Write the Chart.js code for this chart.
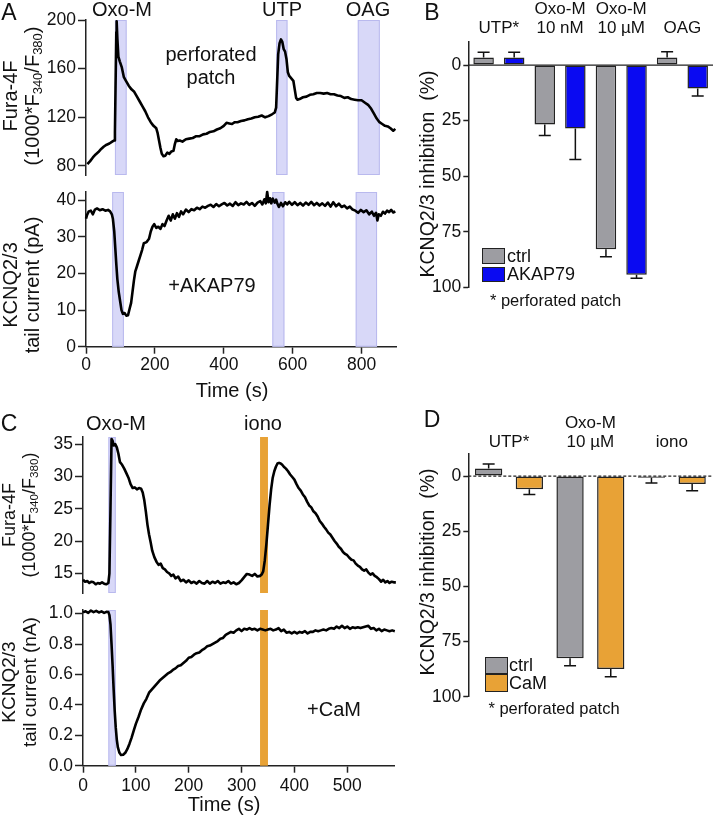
<!DOCTYPE html>
<html><head><meta charset="utf-8">
<script src="https://cdn.jsdelivr.net/npm/chart.js@4.4.1/dist/chart.umd.min.js"></script>
<style>
html,body{margin:0;padding:0;background:#fff;}
#wrap{position:relative;width:714px;height:815px;overflow:hidden;font-family:"Liberation Sans",Arial,sans-serif;color:#111;}
canvas{position:absolute;left:0;top:0;}
.t{position:absolute;white-space:nowrap;transform:translate(-50%,-50%);line-height:1.15;text-align:center;}
.l{position:absolute;white-space:nowrap;transform:translate(0,-50%);line-height:1.15;}
.r{position:absolute;white-space:nowrap;transform:translate(-50%,-50%) rotate(-90deg);text-align:center;line-height:1.1;}
.sw{position:absolute;box-sizing:border-box;border:1.5px solid #222;}
sub{font-size:65%;vertical-align:-0.2em;line-height:0;}
</style></head><body><div id="wrap"></div>
<script>
// ---------- DATA ----------
// Panel A top: Fura-4F ratio vs time (s)
const aFuraT=[4,12,20,28,36,44,52,60,68,76,82,84,86,88,89,91,94,98,104,110,116,124,132,140,148,156,164,172,180,188,196,204,208,212,216,220,225,230,236,242,248,254,258,262,266,272,280,290,300,310,320,330,340,350,360,370,380,390,400,408,416,424,432,440,450,460,470,480,490,500,510,520,530,540,548,552,555,558,562,566,570,574,578,582,586,590,596,602,606,610,614,620,630,640,650,660,670,680,690,700,710,720,730,740,750,760,770,780,790,800,810,820,828,836,844,852,860,868,876,884,892,898];
const aFuraV=[81.5,84,87,89.5,91.5,94,96,97.5,98.5,100,101,108,150,190,199,185,170,166,161,153,150,146,143,141,137,133,129,125,120,116,113,111,107,101,95,90,88,88.5,91,90,92,92.5,98,102,100.5,101,100,102,102.5,103,104.5,104.5,106,106.5,108,108.5,110,111,113,115.5,115,114.5,116,116,117,117.5,118.5,119,120,120.5,121.5,120,121,122.5,124,128,150,172,181,184,182,176,174,168,157,154,152,150,143,136,134.5,135,136.5,137,138.5,139,140,140,139.5,140,139,139,138,137.5,136,136.5,135,134.5,134,134,132,130,127,123,119,116,114.5,113,112.5,111,109,110.5];
const aFuraShades=[[84,118],[552,585],[789,853]];
const aFuraTicks=[80,120,160,200];

// Panel A bottom: KCNQ2/3 tail current (pA)
const aTailT=[0,3,8,14,20,26,32,40,48,56,64,70,75,78,82,85,88,91,95,99,103,107,112,117,122,127,131,135,139,143,148,153,158,163,168,176,183,188,193,198,204,210,216,222,228,234,240,246,252,258,264,270,276,282,290,298,306,314,322,330,338,346,354,362,370,378,386,394,402,410,418,426,434,442,450,458,466,474,482,490,498,506,512,518,522,526,530,534,538,542,548,552,556,560,566,572,578,584,590,598,606,614,622,630,638,646,654,662,670,678,686,694,702,710,718,726,734,742,750,758,766,774,782,790,798,806,814,822,830,836,842,846,850,856,862,868,874,880,886,892,898];
const aTailV=[35,36,37,37.2,36.2,37.5,37.8,37.3,37.6,37.2,37.4,37,36.2,35,31.5,27,22.5,18.5,15,12.5,10,9,9.2,8.5,8.6,10.5,12,15,18,20.5,22,23.5,25,26.5,28.3,28.6,29.5,31.5,32.8,33.5,32.5,32.8,32.2,33.5,33,34.5,35.8,34.5,36.2,35,36.5,35.5,37,36.2,37.5,36.8,37.6,37.3,38,37.6,38.3,38,38.5,38.8,38.2,39,38.4,38.9,39.3,38.6,39.1,38.5,39.5,38.7,39.2,38.9,39.6,38.8,39.3,38.5,39.4,39.8,38.9,40.3,39.2,42.3,39.5,40.6,39.2,40.5,39.4,40.2,39,38.2,39.3,38.4,39.5,38.9,39.6,38.8,39.5,38.7,39.3,38.6,39.4,38.8,39.6,38.7,39.3,38.6,39.2,38.5,39.4,38.3,39.5,38.4,39.1,38.2,38.6,37.8,38.3,37.5,37.2,36.6,37.4,36.8,37.3,36.2,36.9,35.8,36.6,34.5,36.2,35.8,36.9,36.4,37.2,36.8,37.4,36.7,37];
const aTailShades=[[76,110],[541,576],[783,845]];
const aTailTicks=[0,10,20,30,40];
const aTimeTicks=[0,200,400,600,800];

// Panel B: KCNQ2/3 inhibition (%)
const bCategories=[["UTP*"],["Oxo-M","10 nM"],["Oxo-M","10 \u00B5M"],["OAG"]];
const bCtrl=[-3.4,26.7,82.9,-3.4];
const bCtrlErr=[2.3,5,3.3,2.6];
const bAkap=[-3.4,28.5,94.3,10.5];
const bAkapErr=[2.3,14,1.6,3.4];
const inhTicks=[0,25,50,75,100];

// Panel C top: Fura-4F ratio
const cFuraT=[0,4,8,12,16,20,24,28,32,36,40,44,48,50,52,54,56,58,61,64,67,70,74,78,82,86,90,94,98,102,106,110,113,116,119,122,125,128,131,135,139,143,147,151,155,159,163,167,171,175,180,185,190,195,200,205,210,215,220,225,230,235,240,245,250,255,260,265,270,275,280,285,290,295,300,305,310,315,320,325,330,335,338,341,344,347,350,353,356,359,362,365,368,371,374,377,380,384,388,392,396,400,404,408,412,416,420,424,428,432,436,440,444,448,452,456,460,464,468,472,476,480,484,488,492,496,500,504,508,512,516,520,524,528,532,536,540,544,548,552,556,560,564,568,572,576,580,584,588,592];
const cFuraV=[14,13.7,13.8,13.5,13.7,13.6,13.3,13.5,13.4,13.6,13.4,13.3,13.5,15,25,35.8,35.5,34.8,35,34.5,33.5,32.2,31.8,31.2,30.5,29.8,28.8,28.2,28.3,28,28.2,28.1,27.5,26.3,24.5,22.5,21,19.8,18.5,17.5,16.8,16.3,16.5,15.8,15.6,15.2,15,14.6,14.8,14.2,14.5,13.8,14,13.6,13.9,13.5,13.7,13.4,13.8,13.5,13.4,13.8,13.4,13.7,13.5,13.8,13.4,13.6,13.5,13.8,13.4,13.6,13.3,13.5,13.9,14.4,14.9,14.8,14.6,14.9,14.5,14.6,14.8,15.3,17,19.5,22.5,25.5,28,29.8,30.8,31.5,32,32.1,32,31.8,31.5,31.2,30.8,30.3,29.9,29.5,28.8,28.2,27.8,27.2,26.8,26.1,25.5,25.2,24.6,24.3,23.8,23.1,22.7,22.2,21.8,21.3,21,20.5,20,19.6,19.1,18.8,18.3,18,17.8,17.4,17.1,17,16.5,16.2,16,15.6,15.4,15.6,15.1,14.8,15,14.6,14.4,14.1,13.7,14,13.6,13.8,13.5,13.7,13.6,13.6];
const cShades=[[48,62],[335,350]];
const cFuraTicks=[15,20,25,30,35];

// Panel C bottom: KCNQ2/3 tail current (nA)
const cTailT=[0,5,10,15,20,25,30,35,40,45,48,50,52,54,56,58,60,62,64,66,69,72,76,80,84,88,92,96,100,105,110,115,120,125,130,135,140,145,150,155,160,165,170,175,180,185,190,195,200,205,210,215,220,225,230,235,240,245,250,255,260,265,270,275,280,285,290,295,300,305,310,315,320,325,330,335,340,345,350,355,360,365,370,375,380,385,390,395,400,405,410,415,420,425,430,435,440,445,450,455,460,465,470,475,480,485,490,495,500,505,510,515,520,525,530,535,540,545,550,555,560,565,570,575,580,585,590];
const cTailV=[1.01,1.015,1.005,1.02,1.01,1.018,1.008,1.015,1.005,1.012,1.01,0.99,0.93,0.8,0.66,0.5,0.36,0.25,0.17,0.12,0.085,0.07,0.072,0.085,0.11,0.145,0.185,0.23,0.275,0.32,0.37,0.41,0.44,0.48,0.5,0.52,0.54,0.56,0.575,0.59,0.605,0.615,0.63,0.64,0.655,0.66,0.675,0.69,0.71,0.715,0.73,0.74,0.745,0.76,0.77,0.785,0.79,0.8,0.81,0.82,0.835,0.84,0.86,0.87,0.88,0.875,0.89,0.9,0.885,0.9,0.895,0.905,0.895,0.9,0.89,0.9,0.895,0.89,0.895,0.9,0.89,0.895,0.905,0.885,0.895,0.875,0.88,0.87,0.88,0.87,0.88,0.875,0.885,0.87,0.88,0.88,0.89,0.885,0.89,0.895,0.89,0.9,0.905,0.9,0.915,0.905,0.92,0.905,0.915,0.9,0.91,0.905,0.91,0.905,0.91,0.915,0.92,0.9,0.905,0.89,0.9,0.885,0.895,0.89,0.885,0.89,0.885];
const cTailTicks=[0,0.2,0.4,0.6,0.8,1.0];
const cTimeTicks=[0,100,200,300,400,500];

// Panel D: KCNQ2/3 inhibition (%)
const dCategories=[["UTP*"],["Oxo-M","10 \u00B5M"],["iono"]];
const dCtrl=[-3.4,82.6,0.75];
const dCtrlErr=[2,3.4,2.4];
const dCam=[6,87.4,3.6];
const dCamErr=[2.4,3.6,3.1];

// ---------- STYLE ----------
const W=714,H=815;
const BLUE_SHADE='#d8d8f8', BLUE_EDGE='#b9b9ee', ORANGE='#e8a236';
const GRAY='#9d9da2', BLUE='#0a0af2';
const FONT='"Liberation Sans", Arial, sans-serif';
Chart.defaults.font.family=FONT;
Chart.defaults.color='#111';
const wrap=document.getElementById('wrap');
function mkCanvas(){const c=document.createElement('canvas');c.width=W;c.height=H;c.style.width=W+'px';c.style.height=H+'px';wrap.appendChild(c);return c;}

const shadePlugin={id:'shades',beforeDatasetsDraw(chart,args,opts){
  if(!opts||!opts.ranges)return;const {ctx,chartArea:a}=chart;const xs=chart.scales.x;ctx.save();
  opts.ranges.forEach((r,i)=>{const x1=xs.getPixelForValue(r[0]),x2=xs.getPixelForValue(r[1]);
    ctx.fillStyle=opts.fills[i];ctx.fillRect(x1,a.top,x2-x1,a.bottom-a.top);
    if(opts.strokes[i]){ctx.strokeStyle=opts.strokes[i];ctx.lineWidth=1;ctx.strokeRect(x1+0.5,a.top+0.5,x2-x1-1,a.bottom-a.top-1);}});
  ctx.restore();}};

const errPlugin={id:'errbars',afterDatasetsDraw(chart){
  const {ctx}=chart;const ys=chart.scales.y;
  chart.data.datasets.forEach((ds,di)=>{const meta=chart.getDatasetMeta(di);
    meta.data.forEach((bar,i)=>{const v=ds.data[i],e=ds.errors[i];const s=v>=0?1:-1;
      const y0=ys.getPixelForValue(v),y1=ys.getPixelForValue(v+s*e);
      ctx.save();ctx.strokeStyle='#111';ctx.lineWidth=1.5;ctx.beginPath();
      ctx.moveTo(bar.x,y0);ctx.lineTo(bar.x,y1);ctx.moveTo(bar.x-6,y1);ctx.lineTo(bar.x+6,y1);ctx.stroke();ctx.restore();});});}};

const zeroPlugin={id:'zeroline',beforeDatasetsDraw(chart,args,opts){
  const {ctx,chartArea:a}=chart;const y=chart.scales.y.getPixelForValue(0);
  ctx.save();ctx.strokeStyle='#222';ctx.lineWidth=1.3;ctx.setLineDash(opts.dash||[]);
  ctx.beginPath();ctx.moveTo(a.left,y);ctx.lineTo(a.right,y);ctx.stroke();ctx.restore();}};

const axisGrid={display:true,drawOnChartArea:false,drawTicks:true,tickColor:'#222',tickWidth:1.5};
const axisBorder={display:true,color:'#222',width:1.5};

function lineChart(o){
  const yW=60,xH=o.showX?o.xH:0;
  return new Chart(mkCanvas(),{type:'line',
    data:{datasets:[{data:o.t.map((x,i)=>({x,y:o.v[i]})),borderColor:'#000',borderWidth:2.6,pointRadius:0,tension:0,fill:false,clip:false,borderJoinStyle:'round'}]},
    options:{responsive:false,animation:false,events:[],devicePixelRatio:1,
      layout:{padding:{left:o.area.l-yW,right:W-o.area.r,top:o.area.t,bottom:H-o.area.b-xH}},
      plugins:{legend:{display:false},tooltip:{enabled:false},shades:o.shades},
      scales:{
        x:{type:'linear',min:o.xr[0],max:o.xr[1],display:o.showX,
          afterFit(s){s.height=xH;},afterBuildTicks(s){s.ticks=o.xTicks.map(value=>({value}));},
          grid:Object.assign({},axisGrid,{tickLength:7}),border:axisBorder,
          ticks:{font:{size:17.5},color:'#111',padding:o.xPad,maxRotation:0,autoSkip:false}},
        y:{type:'linear',min:o.yr[0],max:o.yr[1],
          afterFit(s){s.width=yW;},afterBuildTicks(s){s.ticks=o.yTicks.map(value=>({value}));},
          grid:Object.assign({},axisGrid,{tickLength:8}),border:axisBorder,
          ticks:{font:{size:17.5},color:'#111',padding:2,callback:o.fmt||(v=>v)}}
      }},
    plugins:[shadePlugin]});
}

function barChart(o){
  const yW=50,xH=40;
  return new Chart(mkCanvas(),{type:'bar',
    data:{labels:o.cats,datasets:o.sets.map(s=>({label:s.label,data:s.data,errors:s.err,backgroundColor:s.color,borderColor:'#222',borderWidth:1.5,borderSkipped:false,barPercentage:0.67,categoryPercentage:1}))},
    options:{responsive:false,animation:false,events:[],devicePixelRatio:1,
      layout:{padding:{left:o.area.l-yW,right:W-o.area.r,top:o.area.t-xH,bottom:H-o.area.b}},
      plugins:{legend:{display:false},tooltip:{enabled:false},zeroline:{dash:o.dash}},
      scales:{
        x:{type:'category',position:'top',offset:true,afterFit(s){s.height=xH;},
          grid:{display:false,drawTicks:false},border:{display:false},
          ticks:{font:{size:17,lineHeight:1.1},color:'#111',padding:o.catPad,maxRotation:0,autoSkip:false}},
        y:{type:'linear',reverse:true,min:o.yr[0],max:o.yr[1],
          afterFit(s){s.width=yW;},afterBuildTicks(s){s.ticks=inhTicks.map(value=>({value}));},
          grid:Object.assign({},axisGrid,{tickLength:5}),border:axisBorder,
          ticks:{font:{size:17.5},color:'#111',padding:2}}
      }},
    plugins:[zeroPlugin,errPlugin]});
}

// Panel A
lineChart({t:aFuraT,v:aFuraV,area:{l:86,r:396,t:20,b:175},xr:[0,900],yr:[72.6,200],yTicks:aFuraTicks,xTicks:aTimeTicks,showX:false,
  shades:{ranges:aFuraShades,fills:[BLUE_SHADE,BLUE_SHADE,BLUE_SHADE],strokes:[BLUE_EDGE,BLUE_EDGE,BLUE_EDGE]}});
lineChart({t:aTailT,v:aTailV,area:{l:86,r:396,t:192,b:346.7},xr:[0,900],yr:[0,42.3],yTicks:aTailTicks,xTicks:aTimeTicks,showX:true,xH:40,xPad:1,
  shades:{ranges:aTailShades,fills:[BLUE_SHADE,BLUE_SHADE,BLUE_SHADE],strokes:[BLUE_EDGE,BLUE_EDGE,BLUE_EDGE]}});
// Panel C
lineChart({t:cFuraT,v:cFuraV,area:{l:83,r:394.8,t:437,b:593},xr:[0,590],yr:[11.95,36.1],yTicks:cFuraTicks,xTicks:cTimeTicks,showX:false,
  shades:{ranges:cShades,fills:[BLUE_SHADE,ORANGE],strokes:[BLUE_EDGE,null]}});
lineChart({t:cTailT,v:cTailV,area:{l:83,r:394.8,t:610,b:765.7},xr:[0,590],yr:[0,1.024],yTicks:cTailTicks,xTicks:cTimeTicks,showX:true,xH:40,xPad:3,
  fmt:v=>Number(v).toFixed(1),
  shades:{ranges:cShades,fills:[BLUE_SHADE,ORANGE],strokes:[BLUE_EDGE,null]}});
// Panel B
barChart({cats:bCategories,area:{l:468.3,r:713,t:41.7,b:287.3},yr:[-10.5,100],catPad:4,dash:[],
  sets:[{label:'ctrl',data:bCtrl,err:bCtrlErr,color:GRAY},{label:'AKAP79',data:bAkap,err:bAkapErr,color:BLUE}]});
// Panel D
barChart({cats:dCategories,area:{l:468.3,r:712.5,t:453.3,b:696.7},yr:[-10.3,100],catPad:2,dash:[3,2],
  sets:[{label:'ctrl',data:dCtrl,err:dCtrlErr,color:GRAY},{label:'CaM',data:dCam,err:dCamErr,color:ORANGE}]});

// ---------- TEXT ----------
function txt(html,x,y,size,cls){const d=document.createElement('div');d.className=cls||'t';d.style.left=x+'px';d.style.top=y+'px';d.style.fontSize=size+'px';d.innerHTML=html;wrap.appendChild(d);return d;}
function sw(x,y,w,h,c){const d=document.createElement('div');d.className='sw';Object.assign(d.style,{left:x+'px',top:y+'px',width:w+'px',height:h+'px',background:c});wrap.appendChild(d);}
txt('A',9,12,23);txt('B',432,12,23);txt('C',9,423,23);txt('D',432,419,23);
txt('Oxo-M',122,9,20);txt('UTP',282,9,20);txt('OAG',368,9,20);
txt('perforated<br>patch',211,66,20);txt('+AKAP79',212,285,20);
txt('Time (s)',232,390,20);
txt('Oxo-M',116,422.5,20);txt('iono',263,422.5,20);txt('+CaM',334,709,20);txt('Time (s)',224,804,20);
txt('Fura-4F<br>(1000*F<sub>340</sub>/F<sub>380</sub>)',21,96,20,'r');
txt('KCNQ2/3<br>tail current (pA)',21,285,20,'r');
txt('Fura-4F<br>(1000*F<sub>340</sub>/F<sub>380</sub>)',20,515,18,'r');
txt('KCNQ2/3<br>tail current (nA)',20,682,19,'r');
txt('KCNQ2/3 inhibition&nbsp;&nbsp;(%)',428,174,19.5,'r');
txt('KCNQ2/3 inhibition&nbsp;&nbsp;(%)',428,572,19.5,'r');
// legends
sw(481.7,248,23.5,15.5,GRAY);sw(481.7,266.5,23.5,15.5,BLUE);
txt('ctrl',507,256,18,'l');txt('AKAP79',507,274,18,'l');txt('* perforated patch',555.5,300,16.5);
sw(485,656.5,22.5,17,GRAY);sw(485,674,22.5,17.5,ORANGE);
txt('ctrl',509,665,18,'l');txt('CaM',509,683,18,'l');txt('* perforated patch',554,708,16.5);
</script></body></html>
